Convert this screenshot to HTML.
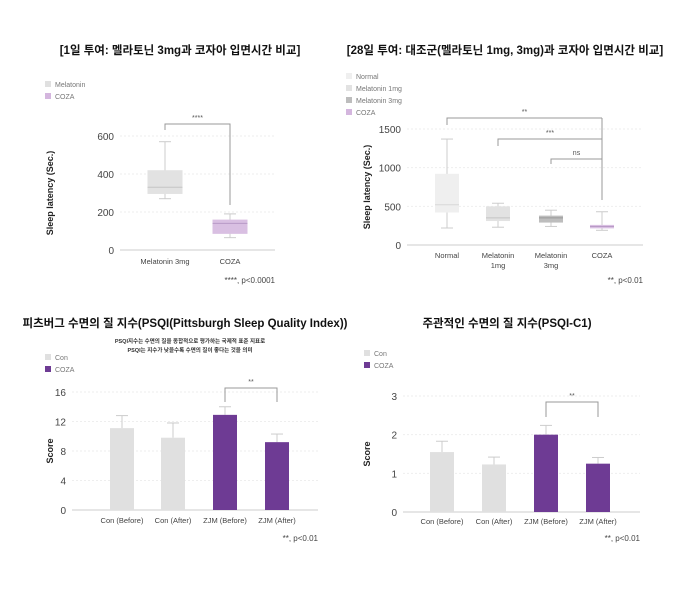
<!DOCTYPE html>
<html><head><meta charset="utf-8">
<style>
body{margin:0;background:#fff;width:680px;height:591px;overflow:hidden}
svg{font-family:"Liberation Sans","Noto Sans CJK KR",sans-serif}
</style></head>
<body>
<svg id="s" width="680" height="591" xmlns="http://www.w3.org/2000/svg"></svg>
<script>
// ---- Chart 1 data
const c1Cats=["Melatonin 3mg","COZA"];
const c1Min=[270,65],c1Q1=[295,85],c1Med=[330,140],c1Q3=[420,160],c1Max=[570,190];
const c1Ticks=[0,200,400,600];
// ---- Chart 2 data
const c2Cats=[["Normal"],["Melatonin","1mg"],["Melatonin","3mg"],["COZA"]];
const c2Min=[220,230,240,190],c2Q1=[420,310,290,215],c2Med=[520,350,350,240],c2Q3=[920,500,380,260],c2Max=[1370,540,450,430];
const c2Ticks=[0,500,1000,1500];
// ---- Chart 3 data
const c3Cats=["Con (Before)","Con (After)","ZJM (Before)","ZJM (After)"];
const c3Vals=[11.1,9.8,12.9,9.2];
const c3Err=[1.7,2.0,1.1,1.1];
const c3Ticks=[0,4,8,12,16];
// ---- Chart 4 data
const c4Cats=["Con (Before)","Con (After)","ZJM (Before)","ZJM (After)"];
const c4Vals=[1.55,1.23,2.0,1.25];
const c4Err=[0.28,0.19,0.24,0.16];
const c4Ticks=[0,1,2,3];

const S=document.getElementById('s');const NS="http://www.w3.org/2000/svg";
function el(t,a,name,txt){const e=document.createElementNS(NS,t);for(const k in a)e.setAttribute(k,a[k]);


if(txt!==undefined)e.textContent=txt;S.appendChild(e);return e;}
function text(x,y,s,size,opt){opt=opt||{};return el('text',Object.assign({x:x,y:y,'font-size':size,fill:opt.fill||'#333','text-anchor':opt.anchor||'start','font-weight':opt.weight||'normal'},opt.extra||{}),opt.name||'label',s);}
function axes(x0,x1,yf,ticks,title,tx,name){
 ticks.forEach(t=>{const y=yf(t);
  el('line',{x1:x0,x2:x1,y1:y,y2:y,stroke:t===0?'#ccc':'#eee','stroke-dasharray':t===0?'':'2,2'},name+'-gridline');
  text(x0-6,y+4,String(t),10,{anchor:'end',fill:'#444',name:name+'-tick-label'});});
 const ty=(yf(ticks[0])+yf(ticks[ticks.length-1]))/2;
 text(tx,ty,title,9,{anchor:'middle',weight:'bold',fill:'#222',name:name+'-y-axis-title',extra:{transform:`rotate(-90 ${tx} ${ty})`}});
}
function legend(x,y,items,name){items.forEach((it,i)=>{el('rect',{x:x,y:y+i*12-6,width:6,height:6,fill:it[1]},name+'-legend-swatch');
 text(x+10,y+i*12,it[0],7,{fill:'#777',name:name+'-legend-entry'});});}
function bracket(xa,xb,y,ya,yb,lab,name){el('path',{d:`M${xa} ${ya}V${y}H${xb}V${yb}`,fill:'none',stroke:'#999','stroke-width':1},name+'-sig-bracket');
 text((xa+xb)/2,y-4,lab,7,{anchor:'middle',fill:'#555',name:name+'-sig-label'});}
function box(cx,w,yf,mn,q1,md,q3,mx,fill,medc,name){
 el('line',{x1:cx,x2:cx,y1:yf(mx),y2:yf(mn),stroke:'#ccc'},name+'-whisker');
 el('line',{x1:cx-6,x2:cx+6,y1:yf(mx),y2:yf(mx),stroke:'#ccc'},name+'-whisker-cap');
 el('line',{x1:cx-6,x2:cx+6,y1:yf(mn),y2:yf(mn),stroke:'#ccc'},name+'-whisker-cap');
 el('rect',{x:cx-w/2,y:yf(q3),width:w,height:yf(q1)-yf(q3),fill:fill},name+'-box');
 el('line',{x1:cx-w/2,x2:cx+w/2,y1:yf(md),y2:yf(md),stroke:medc,'stroke-width':1},name+'-median');}

// Chart 1
text(180,54,"[1일 투여: 멜라토닌 3mg과 코자아 입면시간 비교]",11.5,{anchor:'middle',weight:'bold',fill:'#111',name:'chart1-title'});
legend(45,87,[["Melatonin","#e0e0e0"],["COZA","#d4b6de"]],'chart1');
const y1=v=>250-v*(114/600);
axes(120,275,y1,c1Ticks,"Sleep latency (Sec.)",53,'chart1');
const x1=[165,230];
c1Cats.forEach((c,i)=>{box(x1[i],35,y1,c1Min[i],c1Q1[i],c1Med[i],c1Q3[i],c1Max[i],i?'#d9bfe2':'#e2e2e2',i?'#b89ac6':'#c4c4c4','chart1-'+i);
 text(x1[i],264,c,7.5,{anchor:'middle',fill:'#444',name:'chart1-category-label'});});
bracket(x1[0],x1[1],124,130,205,"****",'chart1');
text(275,283,"****, p<0.0001",8,{anchor:'end',fill:'#444',name:'chart1-footnote'});

// Chart 2
text(505,54,"[28일 투여: 대조군(멜라토닌 1mg, 3mg)과 코자아 입면시간 비교]",11.5,{anchor:'middle',weight:'bold',fill:'#111',name:'chart2-title'});
legend(346,79,[["Normal","#efefef"],["Melatonin 1mg","#e2e2e2"],["Melatonin 3mg","#bdbdbd"],["COZA","#d4b6de"]],'chart2');
const y2=v=>245-v*(116/1500);
axes(407,643,y2,c2Ticks,"Sleep latency (Sec.)",370,'chart2');
const x2=[447,498,551,602];
const f2=['#efefef','#e2e2e2','#bdbdbd','#d9bfe2'],m2=['#d8d8d8','#c4c4c4','#999','#b89ac6'];
c2Cats.forEach((c,i)=>{box(x2[i],24,y2,c2Min[i],c2Q1[i],c2Med[i],c2Q3[i],c2Max[i],f2[i],m2[i],'chart2-'+i);
 c.forEach((l,j)=>text(x2[i],258+j*10,l,7.5,{anchor:'middle',fill:'#444',name:'chart2-category-label'}));});
el('line',{x1:602,x2:602,y1:118,y2:200,stroke:'#999'},'chart2-bracket-stem');
bracket(x2[0],x2[3],118,125,118,"**",'chart2');
bracket(x2[1],x2[3],139,146,139,"***",'chart2');
bracket(x2[2],x2[3],159,164,159,"ns",'chart2');
text(643,283,"**, p<0.01",8,{anchor:'end',fill:'#444',name:'chart2-footnote'});

// Chart 3
text(185,327,"피츠버그 수면의 질 지수(PSQI(Pittsburgh Sleep Quality Index))",11.5,{anchor:'middle',weight:'bold',fill:'#111',name:'chart3-title'});
text(190,343,"PSQI지수는 수면의 질을 종합적으로 평가하는 국제적 표준 지표로",5.5,{anchor:'middle',weight:'bold',fill:'#333',name:'chart3-subtitle'});
text(190,352,"PSQI는 지수가 낮을수록 수면의 질이 좋다는 것을 의미",5.5,{anchor:'middle',weight:'bold',fill:'#333',name:'chart3-subtitle'});
legend(45,360,[["Con","#e0e0e0"],["COZA","#6e3b94"]],'chart3');
const y3=v=>510-v*(118/16);
axes(72,318,y3,c3Ticks,"Score",53,'chart3');
const x3=[122,173,225,277];
c3Cats.forEach((c,i)=>{const col=i<2?'#e0e0e0':'#6e3b94';
 el('line',{x1:x3[i],x2:x3[i],y1:y3(c3Vals[i]+c3Err[i]),y2:y3(c3Vals[i]),stroke:'#ccc'},'chart3-error-bar');
 el('line',{x1:x3[i]-6,x2:x3[i]+6,y1:y3(c3Vals[i]+c3Err[i]),y2:y3(c3Vals[i]+c3Err[i]),stroke:'#ccc'},'chart3-error-cap');
 el('rect',{x:x3[i]-12,y:y3(c3Vals[i]),width:24,height:y3(0)-y3(c3Vals[i]),fill:col},'chart3-bar-'+i);
 text(x3[i],523,c,7.5,{anchor:'middle',fill:'#444',name:'chart3-category-label'});});
bracket(x3[2],x3[3],388,402,402,"**",'chart3');
text(318,541,"**, p<0.01",8,{anchor:'end',fill:'#444',name:'chart3-footnote'});

// Chart 4
text(507,327,"주관적인 수면의 질 지수(PSQI-C1)",11.5,{anchor:'middle',weight:'bold',fill:'#111',name:'chart4-title'});
legend(364,356,[["Con","#e0e0e0"],["COZA","#6e3b94"]],'chart4');
const y4=v=>512-v*(116/3);
axes(403,640,y4,c4Ticks,"Score",370,'chart4');
const x4=[442,494,546,598];
c4Cats.forEach((c,i)=>{const col=i<2?'#e0e0e0':'#6e3b94';
 el('line',{x1:x4[i],x2:x4[i],y1:y4(c4Vals[i]+c4Err[i]),y2:y4(c4Vals[i]),stroke:'#ccc'},'chart4-error-bar');
 el('line',{x1:x4[i]-6,x2:x4[i]+6,y1:y4(c4Vals[i]+c4Err[i]),y2:y4(c4Vals[i]+c4Err[i]),stroke:'#ccc'},'chart4-error-cap');
 el('rect',{x:x4[i]-12,y:y4(c4Vals[i]),width:24,height:y4(0)-y4(c4Vals[i]),fill:col},'chart4-bar-'+i);
 text(x4[i],524,c,7.5,{anchor:'middle',fill:'#444',name:'chart4-category-label'});});
bracket(x4[2],x4[3],402,417,417,"**",'chart4');
text(640,541,"**, p<0.01",8,{anchor:'end',fill:'#444',name:'chart4-footnote'});
</script>
</body></html>
